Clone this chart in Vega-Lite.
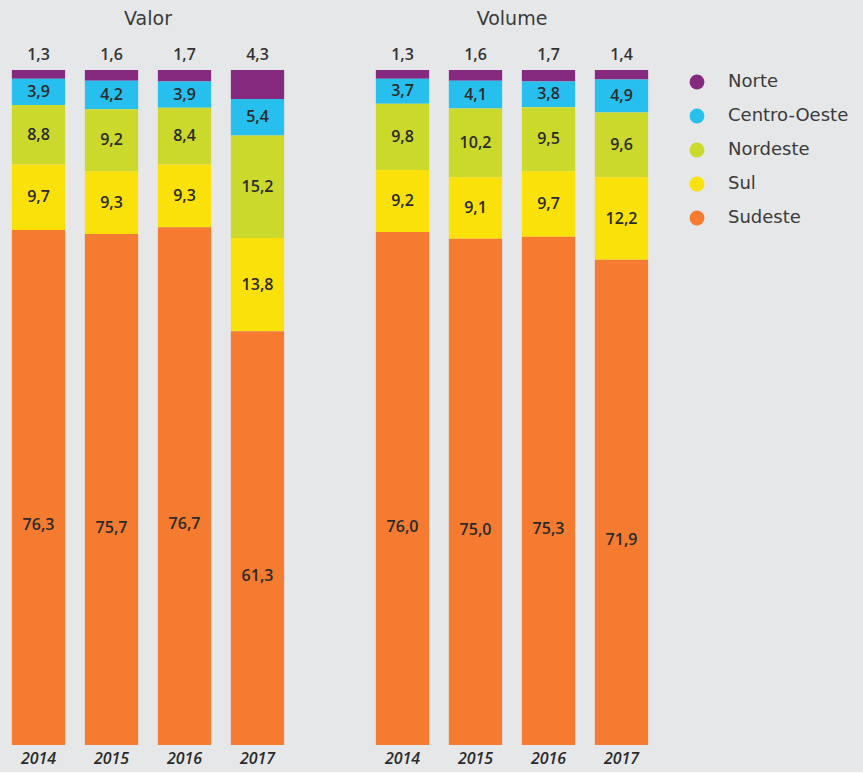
{
  "$schema": "https://vega.github.io/schema/vega-lite/v6.json",
  "background": "#e6e7e9",
  "padding": {"left": 2, "top": 10, "right": 20, "bottom": 6},
  "config": {
    "locale": {"number": {"decimal": ",", "thousands": ".", "grouping": [3], "currency": ["R$", ""]}},
    "view": {"stroke": null},
    "font": "DejaVu Sans",
    "facet": {"spacing": 72}
  },
  "data": {"values": [
    {"painel": "Valor", "ano": "2014", "regiao": "Norte", "ord": 5, "valor": 1.3},
    {"painel": "Valor", "ano": "2014", "regiao": "Centro-Oeste", "ord": 4, "valor": 3.9},
    {"painel": "Valor", "ano": "2014", "regiao": "Nordeste", "ord": 3, "valor": 8.8},
    {"painel": "Valor", "ano": "2014", "regiao": "Sul", "ord": 2, "valor": 9.7},
    {"painel": "Valor", "ano": "2014", "regiao": "Sudeste", "ord": 1, "valor": 76.3},
    {"painel": "Valor", "ano": "2015", "regiao": "Norte", "ord": 5, "valor": 1.6},
    {"painel": "Valor", "ano": "2015", "regiao": "Centro-Oeste", "ord": 4, "valor": 4.2},
    {"painel": "Valor", "ano": "2015", "regiao": "Nordeste", "ord": 3, "valor": 9.2},
    {"painel": "Valor", "ano": "2015", "regiao": "Sul", "ord": 2, "valor": 9.3},
    {"painel": "Valor", "ano": "2015", "regiao": "Sudeste", "ord": 1, "valor": 75.7},
    {"painel": "Valor", "ano": "2016", "regiao": "Norte", "ord": 5, "valor": 1.7},
    {"painel": "Valor", "ano": "2016", "regiao": "Centro-Oeste", "ord": 4, "valor": 3.9},
    {"painel": "Valor", "ano": "2016", "regiao": "Nordeste", "ord": 3, "valor": 8.4},
    {"painel": "Valor", "ano": "2016", "regiao": "Sul", "ord": 2, "valor": 9.3},
    {"painel": "Valor", "ano": "2016", "regiao": "Sudeste", "ord": 1, "valor": 76.7},
    {"painel": "Valor", "ano": "2017", "regiao": "Norte", "ord": 5, "valor": 4.3},
    {"painel": "Valor", "ano": "2017", "regiao": "Centro-Oeste", "ord": 4, "valor": 5.4},
    {"painel": "Valor", "ano": "2017", "regiao": "Nordeste", "ord": 3, "valor": 15.2},
    {"painel": "Valor", "ano": "2017", "regiao": "Sul", "ord": 2, "valor": 13.8},
    {"painel": "Valor", "ano": "2017", "regiao": "Sudeste", "ord": 1, "valor": 61.3},
    {"painel": "Volume", "ano": "2014", "regiao": "Norte", "ord": 5, "valor": 1.3},
    {"painel": "Volume", "ano": "2014", "regiao": "Centro-Oeste", "ord": 4, "valor": 3.7},
    {"painel": "Volume", "ano": "2014", "regiao": "Nordeste", "ord": 3, "valor": 9.8},
    {"painel": "Volume", "ano": "2014", "regiao": "Sul", "ord": 2, "valor": 9.2},
    {"painel": "Volume", "ano": "2014", "regiao": "Sudeste", "ord": 1, "valor": 76.0},
    {"painel": "Volume", "ano": "2015", "regiao": "Norte", "ord": 5, "valor": 1.6},
    {"painel": "Volume", "ano": "2015", "regiao": "Centro-Oeste", "ord": 4, "valor": 4.1},
    {"painel": "Volume", "ano": "2015", "regiao": "Nordeste", "ord": 3, "valor": 10.2},
    {"painel": "Volume", "ano": "2015", "regiao": "Sul", "ord": 2, "valor": 9.1},
    {"painel": "Volume", "ano": "2015", "regiao": "Sudeste", "ord": 1, "valor": 75.0},
    {"painel": "Volume", "ano": "2016", "regiao": "Norte", "ord": 5, "valor": 1.7},
    {"painel": "Volume", "ano": "2016", "regiao": "Centro-Oeste", "ord": 4, "valor": 3.8},
    {"painel": "Volume", "ano": "2016", "regiao": "Nordeste", "ord": 3, "valor": 9.5},
    {"painel": "Volume", "ano": "2016", "regiao": "Sul", "ord": 2, "valor": 9.7},
    {"painel": "Volume", "ano": "2016", "regiao": "Sudeste", "ord": 1, "valor": 75.3},
    {"painel": "Volume", "ano": "2017", "regiao": "Norte", "ord": 5, "valor": 1.4},
    {"painel": "Volume", "ano": "2017", "regiao": "Centro-Oeste", "ord": 4, "valor": 4.9},
    {"painel": "Volume", "ano": "2017", "regiao": "Nordeste", "ord": 3, "valor": 9.6},
    {"painel": "Volume", "ano": "2017", "regiao": "Sul", "ord": 2, "valor": 12.2},
    {"painel": "Volume", "ano": "2017", "regiao": "Sudeste", "ord": 1, "valor": 71.9}
  ]},
  "facet": {
    "column": {
      "field": "painel", "type": "nominal", "sort": ["Valor", "Volume"], "title": null,
      "header": {"labelFontSize": 19, "labelColor": "#3a3a3a", "labelPadding": 18, "labelFont": "DejaVu Sans"}
    }
  },
  "spec": {
    "width": 292,
    "height": 675,
    "encoding": {
      "x": {
        "field": "ano", "type": "ordinal", "title": null,
        "scale": {"paddingInner": 0.27, "paddingOuter": 0.135},
        "axis": {"orient": "bottom", "labelAngle": 0, "labelFontSize": 16, "labelFontStyle": "italic", "labelFontWeight": 600, "labelFont": "Open Sans", "labelColor": "#2a2a2a", "domain": false, "ticks": false, "labelPadding": 5}
      }
    },
    "layer": [
      {
        "mark": {"type": "bar"},
        "encoding": {
          "y": {"field": "valor", "type": "quantitative", "stack": "zero", "scale": {"domain": [0, 100], "nice": false}, "axis": null},
          "color": {
            "field": "regiao", "type": "nominal",
            "scale": {"domain": ["Norte", "Centro-Oeste", "Nordeste", "Sul", "Sudeste"], "range": ["#852a7e", "#27bfed", "#cbd92c", "#fbe10a", "#f47b30"]},
            "legend": {"title": null, "orient": "none", "legendX": 686, "legendY": 3, "symbolType": "circle", "symbolSize": 220, "symbolStrokeWidth": 0, "labelFontSize": 18, "labelColor": "#3a3a3a", "labelOffset": 22, "rowPadding": 16, "labelFont": "DejaVu Sans", "labelLimit": 300}
          },
          "order": {"field": "ord", "type": "quantitative"}
        }
      },
      {
        "transform": [{"filter": "datum.regiao != 'Norte'"}],
        "mark": {"type": "text", "fontSize": 16, "fontWeight": 600, "font": "Open Sans", "color": "#2a2a2a"},
        "encoding": {
          "y": {"field": "valor", "type": "quantitative", "stack": "zero", "bandPosition": 0.5},
          "text": {"field": "valor", "type": "quantitative", "format": ".1f"},
          "opacity": {"condition": {"test": "datum.regiao == 'Sudeste'", "value": 0}, "value": 1},
          "order": {"field": "ord", "type": "quantitative"}
        }
      },
      {
        "transform": [{"filter": "datum.regiao == 'Sudeste'"}],
        "mark": {"type": "text", "fontSize": 16, "fontWeight": 600, "font": "Open Sans", "color": "#2a2a2a", "dy": 38},
        "encoding": {
          "y": {"field": "valor", "type": "quantitative", "stack": "zero", "bandPosition": 0.5},
          "text": {"field": "valor", "type": "quantitative", "format": ".1f"}
        }
      },
      {
        "transform": [{"filter": "datum.regiao == 'Norte'"}],
        "mark": {"type": "text", "fontSize": 16, "fontWeight": 600, "font": "Open Sans", "color": "#333333", "dy": -15},
        "encoding": {
          "y": {"datum": 100},
          "text": {"field": "valor", "type": "quantitative", "format": ".1f"}
        }
      }
    ]
  }
}
